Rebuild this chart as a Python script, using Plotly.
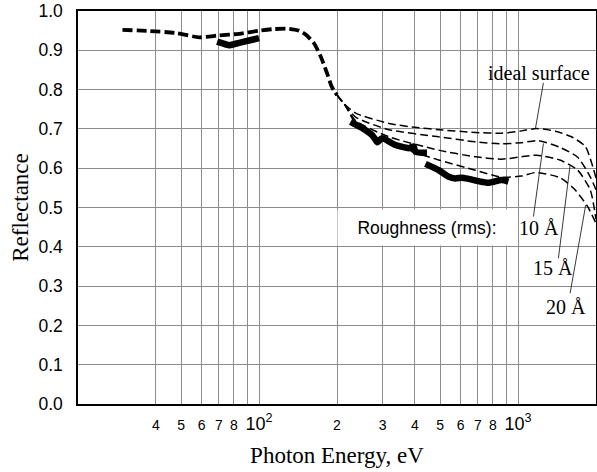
import math
import plotly.graph_objects as go

# ---- data ----
E_theory = [29.7, 37.7, 47.9, 58.7, 70.0, 83.8, 100, 114, 130, 142.6, 151.4, 163, 173, 183, 191, 200]
R_theory = [0.952, 0.949, 0.944, 0.933, 0.938, 0.942, 0.950, 0.954, 0.955, 0.950, 0.940, 0.918, 0.884, 0.842, 0.807, 0.786]

E_ideal = [200, 210, 236, 317, 400, 494, 684, 864, 1031, 1178, 1395, 1607, 1820, 2000]
R_ideal = [0.786, 0.768, 0.740, 0.714, 0.704, 0.698, 0.691, 0.689, 0.695, 0.701, 0.694, 0.680, 0.655, 0.575]

E_10 = [200, 212, 236, 317, 494, 684, 864, 1031, 1200, 1440, 1700, 1900, 2000]
R_10 = [0.786, 0.765, 0.730, 0.698, 0.680, 0.667, 0.662, 0.665, 0.670, 0.654, 0.628, 0.578, 0.545]

E_15 = [200, 214, 236, 317, 494, 684, 864, 1031, 1180, 1450, 1700, 1900, 2000]
R_15 = [0.786, 0.762, 0.721, 0.680, 0.646, 0.629, 0.623, 0.629, 0.633, 0.621, 0.595, 0.545, 0.47]

E_20 = [200, 216, 236, 317, 494, 684, 864, 1031, 1170, 1450, 1650, 1850, 2000]
R_20 = [0.786, 0.758, 0.714, 0.663, 0.621, 0.595, 0.577, 0.580, 0.589, 0.576, 0.547, 0.504, 0.46]

E_meas1 = [68.9, 72, 76.6, 83.8, 91.5, 100]
R_meas1 = [0.922, 0.918, 0.913, 0.919, 0.925, 0.931]

E_meas2 = [225.6, 250, 273.3, 280, 285.7, 298.5, 336.4, 378.6, 395.6, 401.6, 445]
R_meas2 = [0.718, 0.702, 0.684, 0.675, 0.666, 0.676, 0.659, 0.651, 0.655, 0.642, 0.639]

E_meas3 = [439, 494, 540, 573, 607, 644, 704, 769, 864, 918]
R_meas3 = [0.611, 0.595, 0.578, 0.574, 0.576, 0.573, 0.567, 0.563, 0.570, 0.566]

# leader lines (label end -> curve point)
leader_ideal_E = [1253, 1168]
leader_ideal_R = [0.817, 0.702]
leader_10_E = [1147, 1253]
leader_10_R = [0.477, 0.663]
leader_15_E = [1432, 1589]
leader_15_R = [0.371, 0.608]
leader_20_E = [1589, 1825]
leader_20_R = [0.282, 0.506]

x_tickvals = [40, 50, 60, 70, 80, 100, 200, 300, 400, 500, 600, 700, 800, 1000]
x_ticktext = ["4", "5", "6", "7", "8",
              "<span style='font-size:18px'>10<sup>2</sup></span>",
              "2", "3", "4", "5", "6", "7", "8",
              "<span style='font-size:18px'>10<sup>3</sup></span>"]
x_extra_grid = [90, 900]
y_tickvals = [0.0, 0.1, 0.2, 0.3, 0.4, 0.5, 0.6, 0.7, 0.8, 0.9, 1.0]
y_ticktext = ["0.0", "0.1", "0.2", "0.3", "0.4", "0.5", "0.6", "0.7", "0.8", "0.9", "1.0"]

fig = go.Figure()

def add_line(E, R, width, dash):
    fig.add_trace(go.Scatter(x=E, y=R, mode="lines",
                             line=dict(color="black", width=width, dash=dash, shape="spline", smoothing=0.6),
                             hoverinfo="skip", showlegend=False))

add_line(E_theory, R_theory, 3.8, "10px,4px")
for E, R in [(E_ideal, R_ideal), (E_10, R_10), (E_15, R_15), (E_20, R_20)]:
    add_line(E, R, 1.5, "8px,4px")
for E, R in [(E_meas1, R_meas1), (E_meas2, R_meas2), (E_meas3, R_meas3)]:
    add_line(E, R, 6.5, "solid")
for E, R in [(leader_ideal_E, leader_ideal_R), (leader_10_E, leader_10_R),
             (leader_15_E, leader_15_R), (leader_20_E, leader_20_R)]:
    fig.add_trace(go.Scatter(x=E, y=R, mode="lines", line=dict(color="#222", width=0.9),
                             hoverinfo="skip", showlegend=False))

serif = "Liberation Serif, Times New Roman, serif"
sans = "Liberation Sans, Arial, sans-serif"

def label(E, R, text, size=20, font=serif, **kw):
    fig.add_annotation(x=math.log10(E), y=R, xref="x", yref="y", text=text, showarrow=False,
                       font=dict(family=font, size=size, color="black"), **kw)

label(1200, 0.842, "ideal surface")
label(1200, 0.448, "10 Å")
label(1370, 0.346, "15 Å")
label(1538, 0.247, "20 Å")
label(444, 0.449, "Roughness (rms):", size=17.5, font=sans, bgcolor="white",
      width=176, height=33)

fig.update_xaxes(type="log", range=[math.log10(20), math.log10(2000)],
                 tickmode="array", tickvals=x_tickvals, ticktext=x_ticktext,
                 tickfont=dict(family=sans, size=14, color="black"),
                 showgrid=True, gridcolor="#8c8c8c", gridwidth=1,
                 minor=dict(tickmode="array", tickvals=x_extra_grid, showgrid=True,
                            gridcolor="#8c8c8c", gridwidth=1, ticks=""),
                 showline=True, linecolor="black", linewidth=1.5, mirror=True,
                 ticks="", ticklabelstandoff=7, zeroline=False, automargin=False,
                 title=dict(text="Photon Energy, eV", font=dict(family=serif, size=23, color="black"),
                            standoff=14))
fig.update_yaxes(range=[0, 1.0], tickmode="array", tickvals=y_tickvals, ticktext=y_ticktext,
                 tickfont=dict(family=sans, size=17.5, color="black"),
                 showgrid=True, gridcolor="#8c8c8c", gridwidth=1,
                 showline=True, linecolor="black", linewidth=1.5, mirror=True,
                 ticks="", ticklabelstandoff=10, zeroline=False, automargin=False,
                 title=dict(text="Reflectance", font=dict(family=serif, size=23, color="black"),
                            standoff=3))

fig.update_layout(width=597, height=472, margin=dict(l=78, r=1, t=11, b=68),
                  plot_bgcolor="white", paper_bgcolor="white", showlegend=False)

fig.write_html("out.html", config={"displayModeBar": False},
               post_script="document.body.style.margin='0px';")
